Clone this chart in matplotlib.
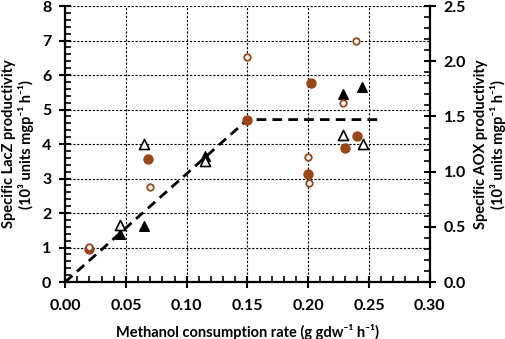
import matplotlib.pyplot as plt
from matplotlib.ticker import MultipleLocator

plt.rcParams['font.family'] = ['Lato', 'DejaVu Sans']
plt.rcParams['font.weight'] = 'bold'

brown = '#9a4517'

# LacZ productivity (left axis), filled markers
lacz_circ_x = [0.020, 0.068, 0.150, 0.202, 0.200, 0.230, 0.240]
lacz_circ_y = [0.95, 3.58, 4.69, 5.76, 3.12, 3.90, 4.22]
lacz_tri_x = [0.045, 0.065, 0.115, 0.229, 0.244]
lacz_tri_y = [1.39, 1.62, 3.65, 5.44, 5.65]

# AOX productivity (right axis), open markers
aox_circ_x = [0.020, 0.070, 0.150, 0.200, 0.201, 0.229, 0.239]
aox_circ_y = [0.32, 0.86, 2.04, 1.13, 0.90, 1.62, 2.18]
aox_tri_x = [0.045, 0.065, 0.115, 0.229, 0.245]
aox_tri_y = [0.52, 1.25, 1.10, 1.33, 1.25]

# fitted trend (left axis units)
fit_x = [0.0, 0.150, 0.257]
fit_y = [0.0, 4.71, 4.71]

fig = plt.figure(figsize=(5.05, 3.39), dpi=100)
ax = fig.add_axes([0.129, 0.168, 0.722, 0.814])
ax2 = ax.twinx()

ax.plot(fit_x, fit_y, color='black', ls=(0, (3.5, 2.2)), lw=2.0, zorder=3)
ax.scatter(lacz_circ_x, lacz_circ_y, s=42, color=brown, zorder=4)
ax.scatter(lacz_tri_x, lacz_tri_y, s=48, marker='^', color='black', zorder=4)
ax2.scatter(aox_circ_x, aox_circ_y, s=22, facecolor='white', edgecolor=brown, linewidth=1.3, zorder=4)
ax2.scatter(aox_tri_x, aox_tri_y, s=52, marker='^', facecolor='white', edgecolor='black', linewidth=1.2, zorder=4)

ax.set_xlim(0, 0.30)
ax.set_ylim(0, 8)
ax2.set_ylim(0, 2.5)

ax.xaxis.set_major_locator(MultipleLocator(0.05))
ax.xaxis.set_minor_locator(MultipleLocator(0.01))
ax.yaxis.set_major_locator(MultipleLocator(1))
ax.yaxis.set_minor_locator(MultipleLocator(0.2))
ax2.yaxis.set_major_locator(MultipleLocator(0.5))
ax2.yaxis.set_minor_locator(MultipleLocator(0.1))
ax.xaxis.set_major_formatter(plt.FormatStrFormatter('%.2f'))
ax2.yaxis.set_major_formatter(plt.FormatStrFormatter('%.1f'))

ax.grid(True, which='major', color='black', ls=(0, (2, 1.5)), lw=0.8)
ax.set_axisbelow(True)

for a in (ax, ax2):
    a.spines['top'].set_visible(False)
    for s in a.spines.values():
        s.set_linewidth(1.6)
ax2.spines['left'].set_visible(False)
ax2.spines['bottom'].set_visible(False)
ax.spines['right'].set_visible(False)

ax.tick_params(which='major', direction='inout', length=8, width=1.5, labelsize=11.5, pad=6)
ax.tick_params(which='minor', direction='in', length=4, width=1.2)
ax2.tick_params(which='major', direction='inout', length=8, width=1.5, labelsize=11.5, pad=6)
ax2.tick_params(which='minor', direction='in', length=4, width=1.2)
ax.tick_params(axis='x', pad=8)

ax.set_xlabel('Methanol consumption rate (g gdw⁻¹ h⁻¹)',
              fontsize=10.5, fontweight='bold', labelpad=8)
ax.set_ylabel('Specific LacZ productivity\n(10³ units mgp⁻¹ h⁻¹)',
              fontsize=10.5, fontweight='bold', labelpad=6, linespacing=1.15)
ax2.set_ylabel('Specific AOX productivity\n(10³ units mgp⁻¹ h⁻¹)',
               fontsize=10.5, fontweight='bold', labelpad=6, linespacing=1.15)

fig.savefig('out.png', dpi=100)
